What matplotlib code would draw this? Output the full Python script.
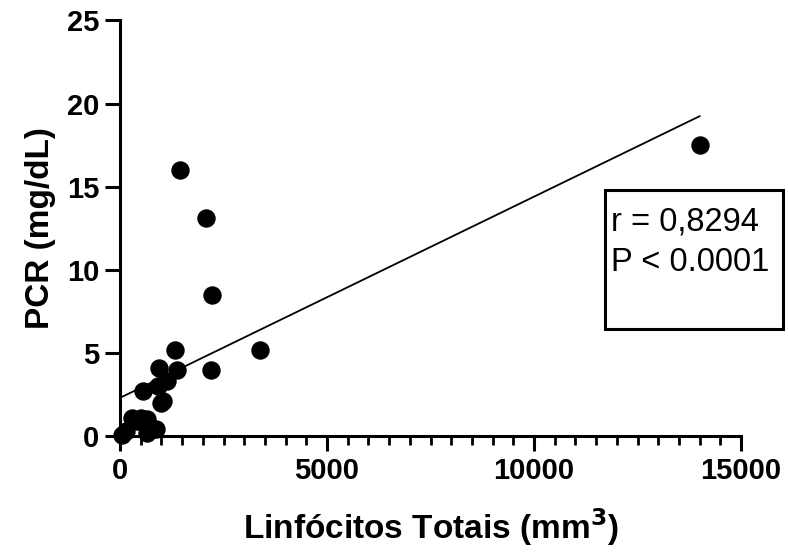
import matplotlib
matplotlib.use("Agg")
import matplotlib.pyplot as plt
import matplotlib.patches as mpatches
import numpy as np
from matplotlib.ticker import MultipleLocator

matplotlib.rcParams.update({
    "font.family": ["Liberation Sans", "DejaVu Sans"],
    "font.size": 21,
})

# ── Data ──────────────────────────────────────────────────────
linfocitos = [1450, 2080, 2220, 3370, 2200, 14000,
              1330, 1380, 930, 550, 920, 1130, 1050, 980,
              300, 500, 650, 150, 650, 880, 60, 420]
pcr = [16.0, 13.1, 8.5, 5.2, 4.0, 17.5,
       5.2, 4.0, 4.1, 2.7, 3.0, 3.3, 2.1, 2.0,
       1.1, 1.1, 1.0, 0.3, 0.2, 0.4, 0.05, 0.9]

# linear fit as drawn in the figure
FIT_INTERCEPT = 2.3
FIT_SLOPE = 0.00121
STATS_TEXT = ["r = 0,8294", "P < 0.0001"]

# ── Plot ──────────────────────────────────────────────────────
fig = plt.figure(figsize=(7.88, 5.52), dpi=100)
ax = fig.add_axes([0.1523, 0.210, 0.7881, 0.753])

ax.scatter(linfocitos, pcr, s=150, color="black", zorder=3, clip_on=False)

xs = np.array([min(linfocitos), max(linfocitos)])
ax.plot(xs, FIT_INTERCEPT + FIT_SLOPE * xs, color="black", lw=1.3, zorder=2)

ax.set_xlim(0, 15000)
ax.set_ylim(0, 25)
ax.xaxis.set_major_locator(MultipleLocator(5000))
ax.xaxis.set_minor_locator(MultipleLocator(500))
ax.yaxis.set_major_locator(MultipleLocator(5))

for s in ["top", "right"]:
    ax.spines[s].set_visible(False)
for s in ["left", "bottom"]:
    ax.spines[s].set_linewidth(2.2)

ax.tick_params(which="major", length=11, width=2.2, pad=4, labelsize=21)
ax.tick_params(which="minor", length=6.5, width=2.0)
for lab in ax.get_xticklabels() + ax.get_yticklabels():
    lab.set_fontweight("bold")

ax.set_xlabel("Linfócitos Totais (mm$^\\mathbf{3}$)", fontsize=24, fontweight="bold", labelpad=15)
ax.set_ylabel("PCR (mg/dL)", fontsize=24, fontweight="bold", labelpad=8)

box = mpatches.Rectangle((0.781, 0.258), 0.287, 0.335, transform=ax.transAxes,
                         fill=False, lw=2.2, edgecolor="black", clip_on=False)
ax.add_patch(box)
ax.text(0.790, 0.515, STATS_TEXT[0], transform=ax.transAxes, fontsize=23.5, va="center", ha="left")
ax.text(0.790, 0.418, STATS_TEXT[1], transform=ax.transAxes, fontsize=23.5, va="center", ha="left")

fig.savefig("out.png", dpi=100)
